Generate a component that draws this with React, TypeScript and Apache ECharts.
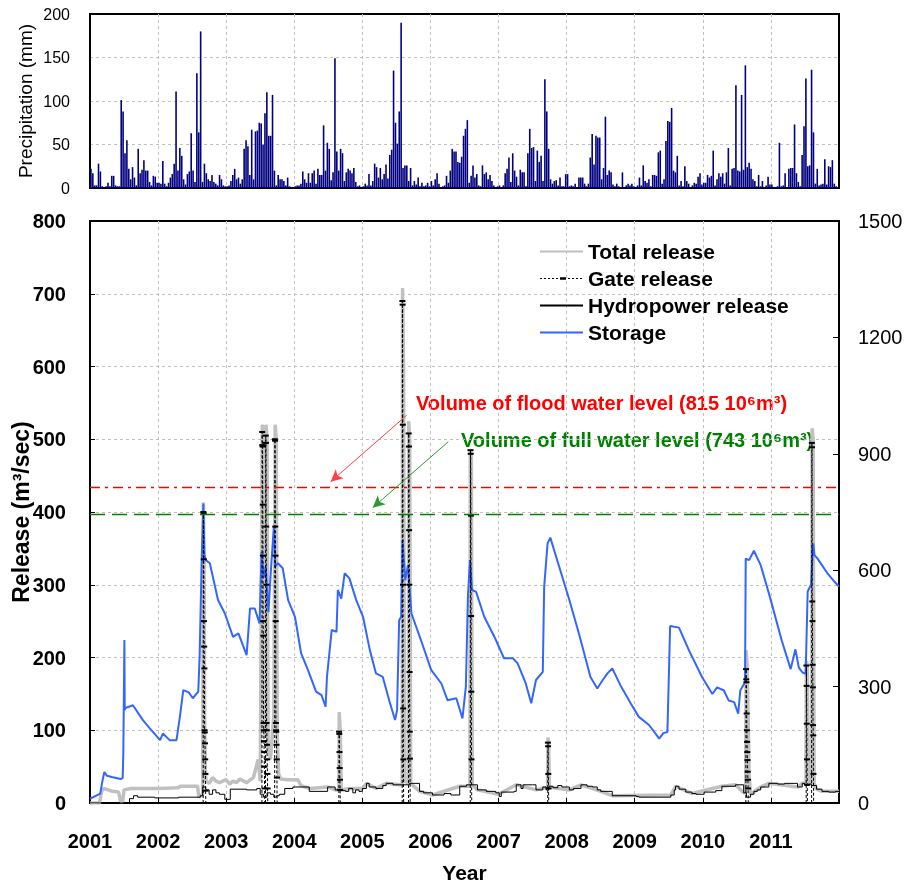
import React, { useEffect, useRef } from "react";
import * as echarts from "echarts";

// ---------- data ----------
const YEARS = [2001, 2002, 2003, 2004, 2005, 2006, 2007, 2008, 2009, 2010, 2011];

// dekadal precipitation (mm), 36 values per year
const precip2001 = [22, 17, 3, 3, 28, 19, 2, 1, 2, 6, 2, 14, 14, 3, 2, 2, 101, 88, 40, 55, 22, 10, 24, 12, 3, 45, 17, 21, 32, 20, 20, 7, 3, 14, 13, 6];
const precip2002 = [6, 5, 31, 5, 2, 6, 12, 16, 28, 111, 20, 46, 37, 10, 4, 16, 19, 63, 20, 7, 132, 64, 180, 7, 28, 17, 10, 8, 15, 7, 5, 3, 15, 10, 3, 2];
const precip2003 = [2, 3, 8, 15, 22, 10, 12, 5, 10, 45, 55, 48, 15, 67, 10, 65, 66, 75, 74, 50, 86, 110, 60, 60, 107, 20, 3, 15, 10, 10, 8, 3, 12, 2, 1, 1];
const precip2004 = [2, 3, 3, 5, 19, 10, 6, 17, 6, 17, 20, 5, 22, 15, 15, 72, 20, 52, 45, 9, 18, 149, 42, 20, 45, 40, 8, 18, 22, 20, 17, 23, 7, 2, 3, 1];
const precip2005 = [2, 5, 3, 16, 3, 8, 28, 24, 12, 23, 10, 16, 27, 11, 38, 44, 135, 75, 51, 88, 190, 23, 26, 26, 8, 23, 3, 8, 4, 12, 2, 6, 2, 3, 6, 2];
const precip2006 = [8, 3, 10, 17, 5, 1, 2, 3, 14, 6, 20, 45, 42, 42, 30, 29, 36, 60, 68, 78, 6, 14, 26, 12, 16, 3, 2, 26, 16, 18, 10, 15, 8, 3, 1, 2];
const precip2007 = [3, 1, 3, 17, 22, 35, 7, 40, 20, 13, 3, 21, 18, 18, 2, 40, 68, 46, 47, 8, 43, 30, 37, 8, 125, 88, 45, 10, 5, 8, 9, 3, 12, 2, 2, 16];
const precip2008 = [16, 2, 3, 2, 5, 1, 12, 12, 12, 5, 2, 5, 35, 62, 27, 60, 58, 58, 10, 23, 82, 15, 20, 18, 4, 2, 5, 2, 1, 18, 1, 3, 5, 3, 5, 2];
const precip2009 = [1, 3, 12, 3, 26, 8, 6, 10, 2, 15, 15, 14, 41, 43, 5, 10, 54, 77, 76, 92, 20, 18, 37, 3, 8, 2, 25, 8, 5, 1, 3, 6, 5, 13, 17, 4];
const precip2010 = [6, 6, 15, 12, 14, 43, 3, 10, 17, 13, 17, 5, 18, 46, 3, 22, 23, 118, 20, 19, 107, 21, 141, 24, 29, 22, 10, 8, 2, 15, 2, 8, 1, 3, 13, 4];
const precip2011 = [4, 1, 1, 2, 52, 2, 3, 17, 1, 22, 23, 23, 73, 17, 7, 2, 38, 71, 126, 25, 26, 136, 64, 5, 22, 3, 4, 5, 33, 4, 25, 24, 32, 5, 2, 1];

const PRECIP_BY_YEAR = [precip2001, precip2002, precip2003, precip2004, precip2005, precip2006, precip2007, precip2008, precip2009, precip2010, precip2011];

// storage (10^6 m3) [decimal year, value]
const storage = [
  [2001.0, 11], [2001.15, 24], [2001.18, 54], [2001.21, 80], [2001.25, 70], [2001.32, 67], [2001.45, 62], [2001.48, 64],
  [2001.49, 135], [2001.505, 420], [2001.51, 240], [2001.52, 245], [2001.63, 252], [2001.78, 213], [2001.9, 188],
  [2002.03, 162], [2002.07, 179], [2002.17, 162], [2002.27, 162], [2002.32, 222], [2002.37, 291], [2002.45, 285],
  [2002.51, 270], [2002.59, 287], [2002.61, 377], [2002.64, 626], [2002.665, 772], [2002.68, 640], [2002.7, 626],
  [2002.76, 618], [2002.88, 523], [2002.98, 489], [2003.1, 428], [2003.18, 437], [2003.3, 381], [2003.35, 501],
  [2003.42, 501], [2003.49, 463], [2003.52, 647], [2003.55, 581], [2003.58, 609], [2003.62, 492], [2003.66, 609],
  [2003.7, 712], [2003.72, 610], [2003.76, 618], [2003.83, 605], [2003.91, 523], [2004.01, 480], [2004.1, 386],
  [2004.2, 343], [2004.32, 287], [2004.4, 278], [2004.46, 248], [2004.48, 325], [2004.55, 446], [2004.62, 441],
  [2004.64, 549], [2004.69, 527], [2004.74, 592], [2004.81, 579], [2004.91, 523], [2005.01, 480], [2005.11, 394],
  [2005.2, 334], [2005.3, 325], [2005.4, 261], [2005.48, 214], [2005.51, 240], [2005.54, 471], [2005.57, 480],
  [2005.59, 677], [2005.63, 574], [2005.67, 613], [2005.72, 489], [2005.86, 420], [2006.01, 343], [2006.16, 308],
  [2006.25, 265], [2006.38, 270], [2006.47, 218], [2006.52, 300], [2006.55, 531], [2006.58, 626], [2006.61, 549],
  [2006.67, 544], [2006.79, 480], [2006.94, 428], [2007.08, 373], [2007.21, 373], [2007.28, 360], [2007.4, 308],
  [2007.48, 257], [2007.55, 317], [2007.65, 338], [2007.67, 557], [2007.72, 669], [2007.76, 684], [2007.92, 592],
  [2008.04, 523], [2008.18, 437], [2008.35, 325], [2008.45, 295], [2008.53, 317], [2008.6, 334], [2008.67, 347],
  [2008.8, 300], [2008.94, 257], [2009.06, 222], [2009.21, 201], [2009.36, 166], [2009.42, 180], [2009.48, 183],
  [2009.52, 456], [2009.65, 452], [2009.8, 392], [2009.99, 324], [2010.14, 281], [2010.21, 298], [2010.31, 290],
  [2010.38, 264], [2010.46, 260], [2010.52, 230], [2010.55, 290], [2010.62, 311], [2010.63, 630], [2010.68, 626],
  [2010.75, 650], [2010.85, 613], [2010.99, 528], [2011.16, 418], [2011.29, 345], [2011.36, 396], [2011.41, 349],
  [2011.46, 337], [2011.51, 333], [2011.54, 545], [2011.59, 563], [2011.62, 669], [2011.64, 639], [2011.68, 631],
  [2011.83, 592], [2011.93, 571], [2012.0, 558],
];

// hydropower release (m3/sec), step values
const hydropower = [
  [2001.0, 0], [2001.58, 6], [2001.64, 10], [2001.7, 8], [2001.95, 7], [2002.3, 8], [2002.62, 10], [2002.655, 22],
  [2002.7, 18], [2002.75, 12], [2002.8, 18], [2002.85, 14], [2002.9, 12], [2002.98, 5], [2003.06, 19], [2003.3, 18],
  [2003.45, 20], [2003.5, 12], [2003.55, 8], [2003.6, 14], [2003.65, 12], [2003.7, 8], [2003.74, 10], [2003.78, 12],
  [2003.86, 20], [2003.98, 22], [2004.1, 22], [2004.22, 16], [2004.49, 22], [2004.6, 18], [2004.67, 17], [2004.75, 16],
  [2004.8, 20], [2004.86, 14], [2004.9, 18], [2004.95, 16], [2005.0, 20], [2005.06, 27], [2005.1, 22], [2005.2, 20],
  [2005.3, 24], [2005.35, 27], [2005.45, 25], [2005.55, 25], [2005.69, 27], [2005.84, 16], [2005.9, 14], [2006.03, 11],
  [2006.2, 13], [2006.3, 11], [2006.43, 23], [2006.53, 25], [2006.69, 18], [2006.82, 16], [2006.96, 14], [2007.01, 9],
  [2007.04, 15], [2007.23, 16], [2007.26, 25], [2007.33, 20], [2007.36, 25], [2007.5, 25], [2007.55, 18], [2007.65, 22],
  [2007.7, 18], [2007.74, 23], [2007.8, 21], [2007.87, 24], [2007.93, 22], [2008.04, 18], [2008.1, 20], [2008.21, 25],
  [2008.3, 23], [2008.38, 22], [2008.45, 18], [2008.5, 16], [2008.67, 10], [2009.02, 9], [2009.06, 8], [2009.53, 11],
  [2009.58, 18], [2009.6, 23], [2009.65, 19], [2009.75, 15], [2009.84, 13], [2009.9, 12], [2010.02, 15], [2010.19, 17],
  [2010.28, 23], [2010.48, 25], [2010.6, 14], [2010.64, 8], [2010.7, 12], [2010.75, 16], [2010.8, 18], [2010.85, 22],
  [2010.97, 27], [2011.1, 26], [2011.2, 27], [2011.39, 22], [2011.46, 27], [2011.5, 24], [2011.55, 26], [2011.6, 24],
  [2011.67, 19], [2011.75, 16], [2011.85, 15], [2011.95, 16], [2012.0, 16],
];

// total release (m3/sec)
const totalRelease = [
  [2001.0, 0], [2001.14, 0], [2001.17, 16], [2001.2, 20], [2001.33, 16], [2001.42, 15], [2001.45, 2], [2001.48, 2],
  [2001.5, 18], [2001.6, 20], [2002.0, 20], [2002.3, 21], [2002.32, 23], [2002.58, 23], [2002.6, 8], [2002.655, 12],
  [2002.665, 413], [2002.675, 330], [2002.685, 100], [2002.695, 40], [2002.705, 30], [2002.75, 27], [2002.8, 35],
  [2002.85, 30], [2002.9, 28], [2003.0, 32], [2003.05, 26], [2003.1, 30], [2003.15, 28], [2003.2, 33], [2003.3, 28],
  [2003.4, 35], [2003.47, 60], [2003.5, 30], [2003.53, 520], [2003.545, 505], [2003.56, 100], [2003.575, 90],
  [2003.585, 520], [2003.6, 500], [2003.615, 80], [2003.65, 60], [2003.7, 120], [2003.72, 520], [2003.735, 500],
  [2003.75, 90], [2003.77, 40], [2003.8, 33], [2003.9, 32], [2004.05, 32], [2004.1, 24], [2004.22, 20], [2004.5, 22],
  [2004.6, 18], [2004.655, 18], [2004.66, 125], [2004.675, 100], [2004.69, 18], [2004.8, 20], [2005.0, 20],
  [2005.06, 27], [2005.2, 20], [2005.35, 27], [2005.55, 25], [2005.585, 25], [2005.59, 708], [2005.605, 600],
  [2005.62, 30], [2005.675, 27], [2005.68, 525], [2005.695, 500], [2005.71, 27], [2005.84, 16], [2006.03, 11],
  [2006.43, 23], [2006.58, 23], [2006.585, 485], [2006.6, 480], [2006.615, 25], [2006.69, 18], [2007.0, 12],
  [2007.26, 25], [2007.55, 18], [2007.72, 22], [2007.725, 90], [2007.735, 85], [2007.745, 22], [2008.04, 18],
  [2008.21, 25], [2008.5, 16], [2008.67, 10], [2009.53, 11], [2009.6, 23], [2009.84, 13], [2010.28, 23], [2010.48, 25],
  [2010.6, 14], [2010.63, 14], [2010.635, 210], [2010.65, 190], [2010.665, 120], [2010.68, 40], [2010.7, 12],
  [2010.85, 22], [2010.97, 27], [2011.39, 22], [2011.46, 27], [2011.515, 27], [2011.52, 195], [2011.535, 190],
  [2011.55, 30], [2011.6, 27], [2011.605, 515], [2011.62, 500], [2011.635, 27], [2011.67, 19], [2011.75, 16],
  [2012.0, 16],
];

// gate release events (m3/sec), daily values
const gateA = [[2002.662, 0], [2002.665, 400], [2002.668, 398], [2002.671, 335], [2002.674, 250], [2002.677, 215], [2002.68, 185], [2002.683, 100], [2002.686, 97], [2002.689, 82], [2002.692, 60], [2002.695, 40], [2002.698, 17], [2002.701, 0]];
const gateB1 = [[2003.525, 0], [2003.528, 510], [2003.531, 492], [2003.534, 490], [2003.537, 410], [2003.54, 340], [2003.543, 250], [2003.546, 230], [2003.549, 110], [2003.552, 100], [2003.555, 85], [2003.558, 70], [2003.561, 50], [2003.564, 20], [2003.567, 0]];
const gateB2 = [[2003.578, 0], [2003.581, 505], [2003.584, 495], [2003.587, 380], [2003.59, 300], [2003.593, 110], [2003.596, 100], [2003.599, 80], [2003.602, 60], [2003.605, 40], [2003.608, 20], [2003.611, 0]];
const gateC = [[2003.712, 0], [2003.715, 500], [2003.718, 498], [2003.721, 380], [2003.724, 340], [2003.727, 250], [2003.73, 110], [2003.733, 100], [2003.736, 98], [2003.739, 80], [2003.742, 60], [2003.745, 35], [2003.748, 0]];
const gateD = [[2004.655, 0], [2004.658, 98], [2004.661, 95], [2004.664, 70], [2004.667, 48], [2004.67, 32], [2004.673, 18], [2004.676, 0]];
const gateE1 = [[2005.585, 0], [2005.588, 690], [2005.591, 685], [2005.594, 520], [2005.597, 300], [2005.6, 130], [2005.603, 60], [2005.606, 0]];
const gateE2 = [[2005.678, 0], [2005.681, 508], [2005.684, 490], [2005.687, 375], [2005.69, 300], [2005.693, 180], [2005.696, 98], [2005.699, 61], [2005.702, 0]];
const gateF = [[2006.585, 0], [2006.588, 485], [2006.591, 480], [2006.594, 395], [2006.597, 257], [2006.6, 153], [2006.603, 60], [2006.606, 0]];
const gateG = [[2007.722, 0], [2007.725, 83], [2007.728, 78], [2007.731, 40], [2007.734, 20], [2007.737, 0]];
const gateH = [[2010.632, 0], [2010.635, 184], [2010.638, 170], [2010.641, 166], [2010.644, 123], [2010.647, 100], [2010.65, 84], [2010.653, 70], [2010.656, 59], [2010.659, 43], [2010.662, 32], [2010.665, 20], [2010.668, 0]];
const gateI1 = [[2011.518, 0], [2011.521, 189], [2011.524, 161], [2011.527, 109], [2011.53, 60], [2011.533, 25], [2011.536, 0]];
const gateI2 = [[2011.598, 0], [2011.601, 495], [2011.604, 489], [2011.607, 277], [2011.61, 250], [2011.613, 190], [2011.616, 159], [2011.619, 107], [2011.622, 93], [2011.625, 40], [2011.628, 0]];
const GATE_EVENTS = [gateA, gateB1, gateB2, gateC, gateD, gateE1, gateE2, gateF, gateG, gateH, gateI1, gateI2];

// reference storage volumes (10^6 m3)
const FLOOD_VOLUME = 815;
const FULL_VOLUME = 743;

const FONT = '"Liberation Sans", Arial, Helvetica, sans-serif';

// legend icon for the gate release: dotted line with a dash marker (43 x 14 box)
const GATE_ICON =
  "path://M0,0h0.05v0.05h-0.05z M42.95,13.95h0.05v0.05h-0.05z " +
  "M0,6.5h2v1h-2z M4,6.5h2v1h-2z M8,6.5h2v1h-2z M12,6.5h2v1h-2z M16,6.5h2v1h-2z " +
  "M20,5.8h6v2.4h-6z M28,6.5h2v1h-2z M32,6.5h2v1h-2z M36,6.5h2v1h-2z M40,6.5h2v1h-2z";

export default function App() {
  const ref = useRef<HTMLDivElement>(null);

  useEffect(() => {
    const chart = echarts.init(ref.current as HTMLDivElement, null, { renderer: "svg" });

    const precipData: any[] = [];
    PRECIP_BY_YEAR.forEach((arr, yi) => {
      arr.forEach((v, i) => precipData.push([YEARS[yi] + (i + 0.5) / arr.length, v]));
    });

    const gateData: any[] = [];
    GATE_EVENTS.forEach((ev) => {
      ev.forEach((p) => gateData.push(p));
      gateData.push([ev[ev.length - 1][0] + 0.0005, null]);
    });

    const grid = "#c0c0c0";
    const splitLine = {
      show: true, showMinLine: false, showMaxLine: false,
      lineStyle: { color: grid, type: [3, 3] as any, width: 1 },
    };

    const levelSeries = (name: string, value: number, color: string, dash: number[]) => ({
      name, type: "line", xAxisIndex: 1, yAxisIndex: 2, data: [], symbol: "none", silent: true, z: 3,
      lineStyle: { color, width: 1.2 }, itemStyle: { color },
      markLine: {
        silent: true, symbol: ["none", "none"], label: { show: false }, emphasis: { disabled: true },
        lineStyle: { color, width: 1.3, type: dash },
        data: [{ yAxis: value }],
      },
    });

    const option: any = {
      animation: false,
      textStyle: { fontFamily: FONT },
      grid: [
        { left: 90, right: 65, top: 14, height: 174, show: true, borderColor: "#000", borderWidth: 2, outerBoundsMode: "none", containLabel: false },
        { left: 90, right: 65, top: 221, height: 582, show: true, borderColor: "#000", borderWidth: 2, outerBoundsMode: "none", containLabel: false },
      ],
      legend: {
        orient: "vertical",
        left: 534,
        top: 236,
        padding: 5,
        itemWidth: 43,
        itemHeight: 14,
        itemGap: 6,
        textStyle: { fontSize: 21, fontWeight: "bold", color: "#000", fontFamily: FONT },
        data: [
          { name: "Total release", itemStyle: { opacity: 0 } },
          { name: "Gate release", icon: GATE_ICON, itemStyle: { color: "#000" } },
          { name: "Hydropower release", itemStyle: { opacity: 0 } },
          { name: "Storage", itemStyle: { opacity: 0 } },
        ],
      },
      xAxis: [
        {
          type: "value", gridIndex: 0, min: 2001, max: 2012, interval: 1,
          axisLabel: { show: false }, axisTick: { show: false },
          axisLine: { lineStyle: { color: "#000", width: 2 } },
          splitLine,
        },
        {
          type: "value", gridIndex: 1, min: 2001, max: 2012, interval: 1,
          axisLabel: {
            fontSize: 20, fontWeight: "bold", color: "#000", margin: 28,
            formatter: (v: number) => (v >= 2012 ? "" : String(v)),
          },
          axisTick: { show: true, inside: true, length: 5, lineStyle: { color: "#000" } },
          axisLine: { lineStyle: { color: "#000", width: 2 } },
          splitLine,
          name: "Year", nameLocation: "middle", nameGap: 59, nameMoveOverlap: false,
          nameTextStyle: { fontSize: 21, fontWeight: "bold", color: "#000" },
        },
      ],
      yAxis: [
        {
          type: "value", gridIndex: 0, min: 0, max: 200, interval: 50,
          axisLabel: { fontSize: 16, color: "#000", margin: 20 },
          axisTick: { show: false },
          axisLine: { show: true, lineStyle: { color: "#000", width: 2 } },
          splitLine: { show: true, showMinLine: false, showMaxLine: false, lineStyle: { color: grid, type: [3, 3], width: 1 } },
          name: "Precipitation (mm)", nameLocation: "middle", nameGap: 55, nameMoveOverlap: false,
          nameTextStyle: { fontSize: 19, color: "#000" },
        },
        {
          type: "value", gridIndex: 1, min: 0, max: 800, interval: 100,
          axisLabel: { fontSize: 20, fontWeight: "bold", color: "#000", margin: 24 },
          axisTick: { show: true, inside: true, length: 5, lineStyle: { color: "#000" } },
          axisLine: { show: true, lineStyle: { color: "#000", width: 2 } },
          splitLine: { show: true, showMinLine: false, showMaxLine: false, lineStyle: { color: grid, type: [3, 3], width: 1 } },
          name: "Release (m³/sec)", nameLocation: "middle", nameGap: 58, nameMoveOverlap: false,
          nameTextStyle: { fontSize: 23, fontWeight: "bold", color: "#000" },
        },
        {
          type: "value", gridIndex: 1, position: "right", min: 0, max: 1500, interval: 300,
          axisLabel: { fontSize: 20, color: "#000", margin: 19, formatter: (v: number) => String(v) },
          axisTick: { show: true, inside: true, length: 6, lineStyle: { color: "#000" } },
          axisLine: { show: true, lineStyle: { color: "#000", width: 2 } },
          splitLine: { show: false },
        },
      ],
      series: [
        {
          name: "Precipitation", type: "bar", xAxisIndex: 0, yAxisIndex: 0,
          data: precipData, barWidth: 1.6, itemStyle: { color: "#000080" }, silent: true,
        },
        {
          name: "Total release", type: "line", xAxisIndex: 1, yAxisIndex: 1,
          data: totalRelease, symbol: "none", z: 2, silent: true,
          lineStyle: { color: "#c0c0c0", width: 3.5 }, itemStyle: { color: "#c0c0c0" },
        },
        levelSeries("Flood water level", FLOOD_VOLUME, "#ff0000", [10, 5, 3, 5]),
        levelSeries("Full water level", FULL_VOLUME, "#008000", [15, 7]),
        {
          name: "Storage", type: "line", xAxisIndex: 1, yAxisIndex: 2,
          data: storage, symbol: "none", z: 3, silent: true,
          lineStyle: { color: "#3366ff", width: 2 }, itemStyle: { color: "#3366ff" },
        },
        {
          name: "Gate release", type: "line", xAxisIndex: 1, yAxisIndex: 1,
          data: gateData, symbol: "rect", symbolSize: [6, 2], showSymbol: true, z: 4, silent: true,
          connectNulls: false,
          lineStyle: { color: "#000", width: 1, type: [3, 2] }, itemStyle: { color: "#000" },
        },
        {
          name: "Hydropower release", type: "line", xAxisIndex: 1, yAxisIndex: 1,
          data: hydropower, step: "end", symbol: "none", z: 5, silent: true,
          lineStyle: { color: "#000", width: 1 }, itemStyle: { color: "#000" },
          markLine: {
            silent: true, symbol: ["none", "arrow"], symbolSize: [9, 12],
            label: { show: false }, emphasis: { disabled: true },
            data: [
              [
                { coord: [2005.651, 533], lineStyle: { color: "#ff4040", width: 1, type: "solid" } },
                { coord: [2004.535, 441.6], lineStyle: { color: "#ff4040", width: 1, type: "solid" } },
              ],
              [
                { coord: [2006.262, 496.6], lineStyle: { color: "#2e9a2e", width: 1, type: "solid" } },
                { coord: [2005.152, 405.9], lineStyle: { color: "#2e9a2e", width: 1, type: "solid" } },
              ],
            ],
          },
        },
      ],
      graphic: [
        {
          type: "text", left: 416, top: 393,
          style: { text: "Volume of flood water level (815 10⁶m³)", fill: "#ff0000", font: `bold 20px ${FONT}` },
        },
        {
          type: "text", left: 461, top: 430,
          style: { text: "Volume of full water level (743 10⁶m³)", fill: "#008000", font: `bold 20px ${FONT}` },
        },
      ],
    };

    chart.setOption(option);
    return () => chart.dispose();
  }, []);

  return <div ref={ref} style={{ position: "fixed", left: 0, top: 0, width: 904, height: 885 }} />;
}
